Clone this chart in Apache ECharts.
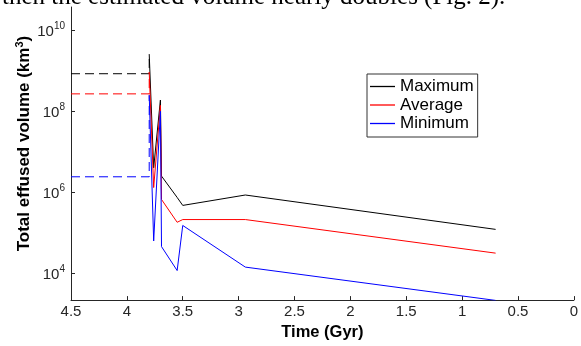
<!DOCTYPE html>
<html>
<head>
<meta charset="utf-8">
<script src="https://cdn.jsdelivr.net/npm/echarts@6/dist/echarts.min.js"></script>
<style>
html,body{margin:0;padding:0;background:#fff;}
#chart{width:581px;height:346px;}
</style>
</head>
<body>
<div id="chart"></div>
<script>
// Time (Gyr) of each modelled step
const years = [3.8, 3.76, 3.7, 3.69, 3.55, 3.5, 2.94, 0.7];
// Total effused volume (km^3)
const maximum = [2.6e9, 4.0e6, 1.9e8, 2.5e6, 7.4e5, 4.7e5, 8.5e5, 1.2e5];
const average = [9.3e8, 1.3e6, 1.4e8, 6.6e5, 1.8e5, 2.1e5, 2.1e5, 3.1e4];
const minimum = [2.5e8, 6.2e4, 1.0e8, 4.5e4, 1.15e4, 1.5e5, 1.4e4, 2.1e3];
// Earlier (pre-3.8 Gyr) constant levels drawn dashed
const preYears = [4.5, 3.8];
const preMaximum = 8.5e8;
const preAverage = 2.7e8;
const preMinimum = 2.4e6;
const seriesNames = ['Maximum', 'Average', 'Minimum'];
const yTickExponents = [4, 6, 8, 10];
const xTicks = [4.5, 4, 3.5, 3, 2.5, 2, 1.5, 1, 0.5, 0];
const colors = ['#000000', '#ff0000', '#0000ff'];

const lg = v => Math.log10(v);
const solid = vals => years.map((t, i) => [t, lg(vals[i])]);
const dashed = (pre, first) => [[preYears[0], lg(pre)], [preYears[1], lg(pre)], [preYears[1], lg(first)]];

const chart = echarts.init(document.getElementById('chart'), null, {renderer: 'canvas'});
const axisColor = '#262626';
const option = {
  animation: false,
  backgroundColor: '#fff',
  grid: {left: 71, right: 7, top: 7, bottom: 43, containLabel: false},
  graphic: [{
    type: 'text', x: 2, y: -3,
    style: {text: 'then the estimated volume nearly doubles (Fig. 2).', font: '25px "Liberation Serif"', fill: '#000', align: 'left', verticalAlign: 'middle'}
  }],
  legend: {
    data: seriesNames.map((n, i) => ({name: n, icon: 'rect', itemStyle: {color: colors[i], borderWidth: 0}})),
    orient: 'vertical',
    left: 367, top: 74,
    padding: [4, 4, 5, 3],
    itemWidth: 25, itemHeight: 1.3, itemGap: 1.5,
    backgroundColor: '#fff',
    borderColor: '#333', borderWidth: 1, borderRadius: 0,
    textStyle: {fontFamily: 'Liberation Sans', fontSize: 17, color: '#000', lineHeight: 17}
  },
  xAxis: {
    type: 'value', min: 0, max: 4.5, interval: 0.5, inverse: true,
    name: 'Time (Gyr)', nameLocation: 'middle', nameGap: 20,
    nameTextStyle: {fontFamily: 'Liberation Sans', fontSize: 16.5, fontWeight: 'bold', color: '#000'},
    axisLine: {show: true, onZero: false, lineStyle: {color: axisColor, width: 1}},
    axisTick: {show: true, inside: true, length: 4, lineStyle: {color: axisColor}},
    axisLabel: {fontFamily: 'Liberation Sans', fontSize: 15, color: axisColor, margin: 4,
      formatter: v => String(xTicks.find(t => Math.abs(t - v) < 1e-9) ?? v)},
    splitLine: {show: false}
  },
  yAxis: {
    type: 'value', min: 3.33, max: 10.58, position: 'left',
    name: 'Total effused volume (km{sup|3})', nameLocation: 'middle', nameGap: 36, nameMoveOverlap: false,
    nameTextStyle: {fontFamily: 'Liberation Sans', fontSize: 17, fontWeight: 'bold', color: '#000', padding: [0, 0, 0, 20],
      rich: {sup: {fontFamily: 'Liberation Sans', fontSize: 11, fontWeight: 'bold', color: '#000', padding: [0, 0, 10, 0]}}},
    axisLine: {show: true, onZero: false, lineStyle: {color: axisColor, width: 1}},
    axisTick: {show: true, inside: true, length: 4, customValues: yTickExponents, lineStyle: {color: axisColor}},
    axisLabel: {customValues: yTickExponents, margin: 6,
      formatter: v => '{b|10}{s|' + v + '}',
      rich: {
        b: {fontFamily: 'Liberation Sans', fontSize: 15, color: axisColor, verticalAlign: 'bottom'},
        s: {fontFamily: 'Liberation Sans', fontSize: 10, color: axisColor, verticalAlign: 'bottom', padding: [0, 0, 8, 0]}
      }},
    splitLine: {show: false}
  },
  series: [
    {name: 'Maximum pre', type: 'line', data: dashed(preMaximum, maximum[0]), symbol: 'none', lineStyle: {color: colors[0], width: 1, type: [9, 5]}, itemStyle: {color: colors[0]}, z: 1},
    {name: 'Average pre', type: 'line', data: dashed(preAverage, average[0]), symbol: 'none', lineStyle: {color: colors[1], width: 1, type: [9, 5]}, itemStyle: {color: colors[1]}, z: 1},
    {name: 'Minimum pre', type: 'line', data: dashed(preMinimum, minimum[0]), symbol: 'none', lineStyle: {color: colors[2], width: 1, type: [9, 5]}, itemStyle: {color: colors[2]}, z: 1},
    {name: seriesNames[0], type: 'line', data: solid(maximum), symbol: 'none', itemStyle: {color: colors[0]}, lineStyle: {color: colors[0], width: 1}, z: 3},
    {name: seriesNames[1], type: 'line', data: solid(average), symbol: 'none', itemStyle: {color: colors[1]}, lineStyle: {color: colors[1], width: 1}, z: 3},
    {name: seriesNames[2], type: 'line', data: solid(minimum), symbol: 'none', itemStyle: {color: colors[2]}, lineStyle: {color: colors[2], width: 1}, z: 3}
  ]
};
chart.setOption(option);
</script>
</body>
</html>
